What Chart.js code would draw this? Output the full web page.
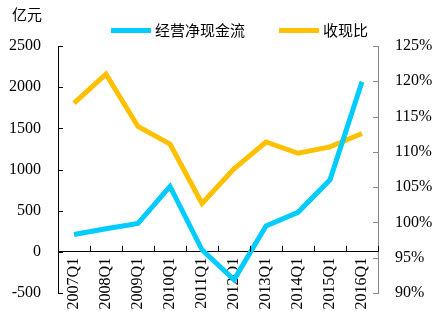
<!DOCTYPE html>
<html>
<head>
<meta charset="utf-8">
<script src="https://cdn.jsdelivr.net/npm/chart.js@4.4.1/dist/chart.umd.min.js"></script>
<style>
  html, body { margin: 0; padding: 0; background: #fff; }
  #wrap { width: 438px; height: 329px; position: relative; }
</style>
</head>
<body>
<div id="wrap"><canvas id="chart"></canvas></div>
<script>
const categories = ['2007Q1', '2008Q1', '2009Q1', '2010Q1', '2011Q1', '2012Q1', '2013Q1', '2014Q1', '2015Q1', '2016Q1'];
const cashFlow = [210, 280, 345, 795, 25, -340, 315, 480, 875, 2065];
const cashRatio = [116.9, 121.0, 113.6, 111.1, 102.7, 107.6, 111.4, 109.8, 110.7, 112.6];
const leftTicks = [-500, 0, 500, 1000, 1500, 2000, 2500];
const rightTicks = [90, 95, 100, 105, 110, 115, 120, 125];

const serif = "'Liberation Serif', serif";
const cjk = "'Noto Sans CJK SC', sans-serif";
Chart.defaults.font.family = serif;

// short tick marks pointing into the plot
const innerTicks = {
  id: 'innerTicks',
  afterDraw(chart) {
    const { ctx, scales } = chart;
    const x = scales.x, yl = scales.y, yr = scales.y1;
    const zero = yl.getPixelForValue(0);
    ctx.save();
    ctx.lineWidth = 1;
    ctx.strokeStyle = '#000';
    ctx.beginPath();
    for (let i = 0; i <= categories.length; i++) {
      const px = i === 0 ? x.left : i === categories.length ? x.right
        : (x.getPixelForValue(i - 1) + x.getPixelForValue(i)) / 2;
      ctx.moveTo(Math.round(px) + 0.5, zero);
      ctx.lineTo(Math.round(px) + 0.5, zero - 6);
    }
    leftTicks.forEach((v) => {
      const py = Math.round(yl.getPixelForValue(v)) + 0.5;
      ctx.moveTo(yl.right, py);
      ctx.lineTo(yl.right + 5, py);
    });
    ctx.stroke();
    ctx.strokeStyle = '#888';
    ctx.beginPath();
    rightTicks.forEach((v) => {
      const py = Math.round(yr.getPixelForValue(v)) + 0.5;
      ctx.moveTo(yr.left, py);
      ctx.lineTo(yr.left - 5, py);
    });
    ctx.stroke();
    ctx.restore();
  },
};

// unit label and legend above the plot
const header = {
  id: 'header',
  afterDraw(chart) {
    const { ctx } = chart;
    ctx.save();
    ctx.font = '15px ' + cjk;
    ctx.fillStyle = '#000';
    ctx.textBaseline = 'middle';
    ctx.fillText('亿元', 12, 14);
    let lx = 111;
    chart.data.datasets.forEach((ds) => {
      ctx.fillStyle = ds.borderColor;
      ctx.fillRect(lx, 28, 40, 5);
      ctx.fillStyle = '#000';
      ctx.fillText(ds.label, lx + 44, 30);
      lx += 44 + ctx.measureText(ds.label).width + 34;
    });
    ctx.restore();
  },
};

new Chart(document.getElementById('chart'), {
  type: 'line',
  data: {
    labels: categories,
    datasets: [
      {
        label: '经营净现金流',
        data: cashFlow,
        borderColor: '#00CCFF',
        backgroundColor: '#00CCFF',
        borderWidth: 5,
        pointRadius: 0,
        tension: 0,
        yAxisID: 'y',
      },
      {
        label: '收现比',
        data: cashRatio,
        borderColor: '#FFC000',
        backgroundColor: '#FFC000',
        borderWidth: 5,
        pointRadius: 0,
        tension: 0,
        yAxisID: 'y1',
      },
    ],
  },
  options: {
    responsive: true,
    maintainAspectRatio: false,
    animation: false,
    layout: { padding: { left: 8, right: 6, top: 46, bottom: 36 } },
    plugins: {
      title: { display: false },
      legend: { display: false },
      tooltip: { enabled: false },
    },
    scales: {
      x: {
        position: { y: 0 },
        offset: true,
        grid: { display: false, drawTicks: false },
        border: { display: true, color: '#000', width: 1 },
        ticks: {
          color: '#000',
          font: { family: serif, size: 16 },
          minRotation: 90,
          maxRotation: 90,
          padding: 6,
          autoSkip: false,
        },
      },
      y: {
        position: 'left',
        min: -500,
        max: 2500,
        afterBuildTicks: (axis) => { axis.ticks = leftTicks.map((v) => ({ value: v })); },
        afterFit: (axis) => { axis.width = 50; },
        grid: { display: false, drawTicks: false },
        border: { display: true, color: '#000', width: 1 },
        ticks: { color: '#000', font: { family: serif, size: 16 }, padding: 17, callback: (v) => String(v) },
      },
      y1: {
        position: 'right',
        min: 90,
        max: 125,
        afterBuildTicks: (axis) => { axis.ticks = rightTicks.map((v) => ({ value: v })); },
        afterFit: (axis) => { axis.width = 54; },
        grid: { display: false, drawTicks: false },
        border: { display: true, color: '#888', width: 1 },
        ticks: { color: '#000', font: { family: serif, size: 16 }, padding: 17, callback: (v) => v + '%' },
      },
    },
  },
  plugins: [innerTicks, header],
});
</script>
</body>
</html>
